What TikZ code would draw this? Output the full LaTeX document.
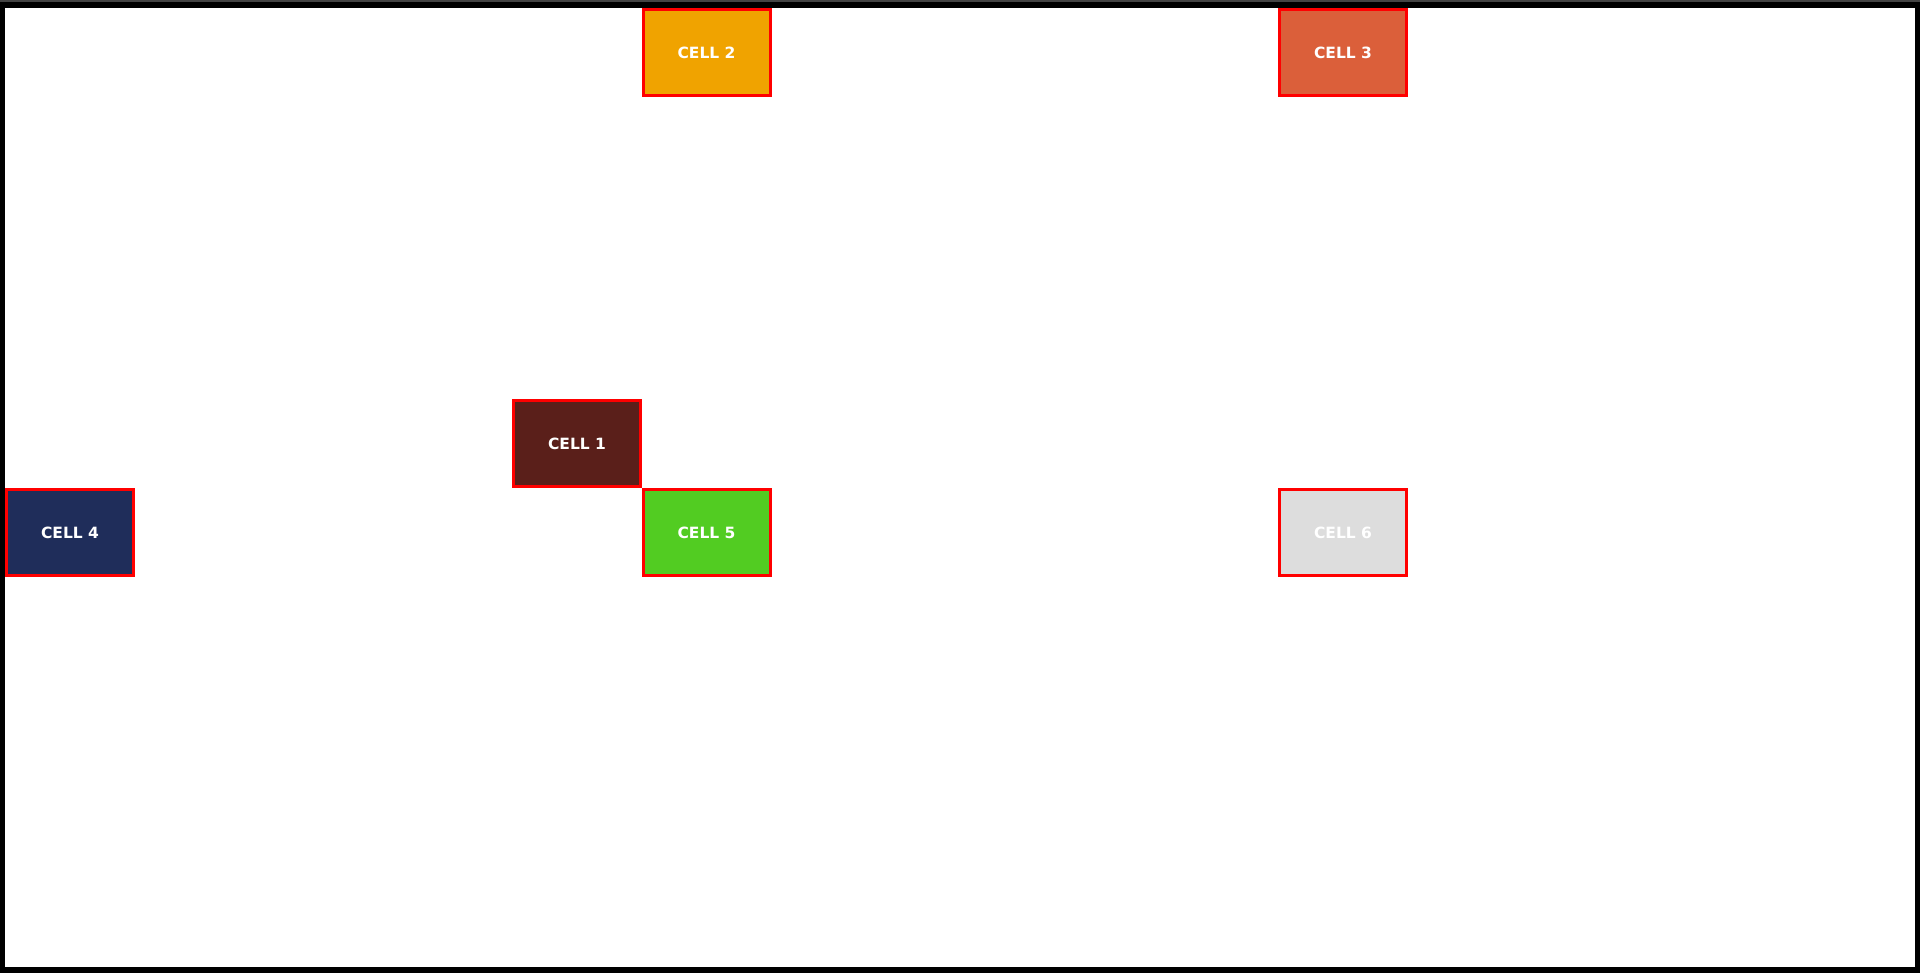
\documentclass[tikz,border=0pt]{standalone}
\usepackage{fontspec}
\newfontfamily\cellfont{DejaVu Sans}
\definecolor{cellred}{HTML}{FF0000}
\definecolor{cOne}{HTML}{5A1F1A}
\definecolor{cTwo}{HTML}{F0A300}
\definecolor{cThree}{HTML}{DB5F3A}
\definecolor{cFour}{HTML}{1F2D5A}
\definecolor{cFive}{HTML}{52CC22}
\definecolor{cSix}{HTML}{DDDDDD}
\definecolor{topgray}{HTML}{444444}
\tikzset{
  cellbox/.style={draw=cellred, line width=3bp, minimum width=127bp, minimum height=86bp,
    inner sep=0pt, text=white, font=\cellfont\bfseries\fontsize{15.5bp}{18bp}\selectfont, anchor=center}
}
\begin{document}
\begin{tikzpicture}[x=1bp,y=-1bp]
\useasboundingbox (0,0) rectangle (1920,973);
\fill[black] (0,0) rectangle (1920,973);
\fill[topgray] (0,0) rectangle (1920,2);
\fill[white] (5,8) rectangle (1915,967);
\node[cellbox, fill=cOne]   (c1) at (577,443.5)   {CELL 1};
\node[cellbox, fill=cTwo]   (c2) at (706.5,52.5)  {CELL 2};
\node[cellbox, fill=cThree] (c3) at (1343,52.5)   {CELL 3};
\node[cellbox, fill=cFour]  (c4) at (70,532.5)    {CELL 4};
\node[cellbox, fill=cFive]  (c5) at (706.5,532.5) {CELL 5};
\node[cellbox, fill=cSix]   (c6) at (1343,532.5)  {CELL 6};
\end{tikzpicture}
\end{document}
